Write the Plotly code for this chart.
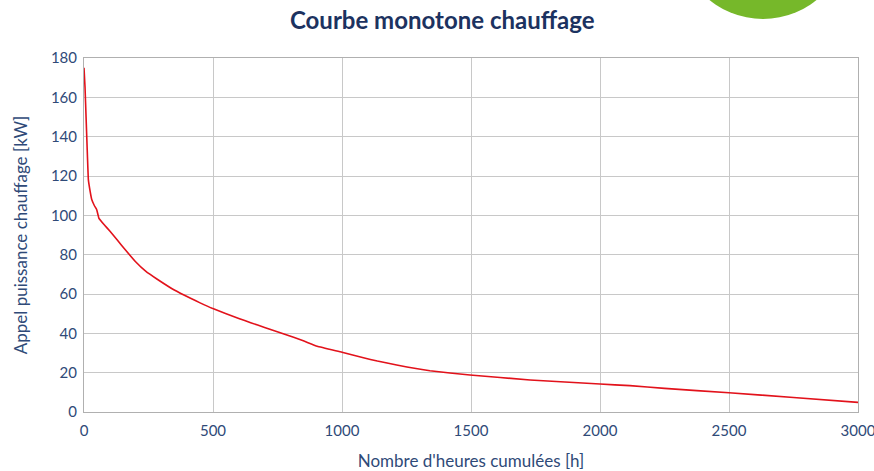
import plotly.graph_objects as go

# Heating load duration curve: cumulated hours vs heating power demand
heures = [0, 4, 8, 12, 17, 24, 30, 40, 49, 58, 80, 100, 129, 160, 200, 240, 284,
          350, 413, 450, 497, 600, 646, 700, 775, 850, 904, 1000, 1083, 1137, 1212,
          1341, 1496, 1729, 2000, 2116, 2250, 2500, 2750, 3000]
puissance_kw = [175, 165, 150, 135, 118, 112, 108, 105, 103, 98.5, 95, 92, 87.4, 82.5,
                76.4, 71.5, 67.5, 62, 57.8, 55.5, 52.7, 47.6, 45.4, 43, 39.7, 36.2,
                33.4, 30.4, 27.6, 25.9, 23.9, 21, 18.8, 16.3, 14.2, 13.4, 12,
                9.8, 7.4, 4.9]

x_ticks = [0, 500, 1000, 1500, 2000, 2500, 3000]
y_ticks = [0, 20, 40, 60, 80, 100, 120, 140, 160, 180]

text_color = "#2f4a78"
grid_color = "#c8c8c8"

fig = go.Figure()
fig.add_trace(go.Scatter(
    x=heures, y=puissance_kw, mode="lines",
    line=dict(color="#e2121b", width=1.6, shape="spline", smoothing=0.3),
    showlegend=False, hoverinfo="x+y",
))

fig.update_layout(
    width=874, height=471,
    margin=dict(l=84, r=16, t=58, b=59, autoexpand=False),
    paper_bgcolor="white", plot_bgcolor="white",
    font=dict(family="Lato, 'Open Sans', sans-serif", size=15, color=text_color),
    title=dict(text="<b>Courbe monotone chauffage</b>", x=0.506, xanchor="center",
               y=0.956, yanchor="middle",
               font=dict(size=24, color="#1c3260", family="Lato, sans-serif")),
    xaxis=dict(range=[0, 3000], tickvals=x_ticks, showgrid=True, gridcolor=grid_color,
               gridwidth=1, zeroline=False, showline=True, linecolor="#b0b0b0",
               mirror=True, ticks="", ticklen=0, automargin=False,
               ticklabeloverflow="allow", ticklabelstandoff=5,
               tickfont=dict(size=15, color=text_color),
               title=dict(text="Nombre d'heures cumulées [h]", standoff=22,
                          font=dict(size=17, color=text_color))),
    yaxis=dict(range=[0, 180], tickvals=y_ticks, showgrid=True, gridcolor=grid_color,
               gridwidth=1, zeroline=False, showline=True, linecolor="#b0b0b0",
               mirror=True, ticks="", automargin=False, ticklabelstandoff=3,
               tickfont=dict(size=15, color=text_color),
               title=dict(text="Appel puissance chauffage [kW]", standoff=18,
                          font=dict(size=17, color=text_color))),
    shapes=[dict(type="circle", xref="paper", yref="paper", layer="above",
                 x0=(678 - 84) / 774, x1=(848 - 84) / 774,
                 y0=(412 - 19) / 354, y1=(412 + 151) / 354,
                 fillcolor="#76b82a", line=dict(width=0))],
)

fig.write_html("out.html")
